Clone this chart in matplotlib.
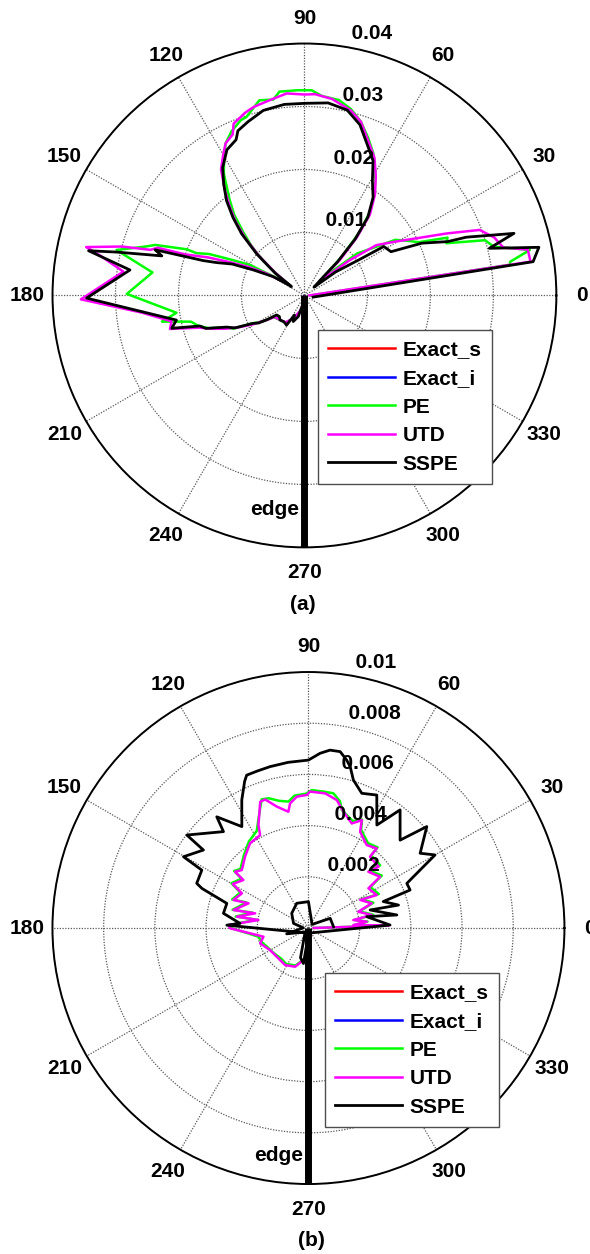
import numpy as np
import matplotlib
matplotlib.use("Agg")
import matplotlib.pyplot as plt

plt.rcParams['font.family'] = ['Liberation Sans', 'DejaVu Sans']
plt.rcParams['font.weight'] = 'bold'

# ---------------- data: (angle in degrees, value) ----------------
angle_ticks = [0, 30, 60, 90, 120, 150, 180, 210, 240, 270, 300, 330]
legend_labels = ['Exact_s', 'Exact_i', 'PE', 'UTD', 'SSPE']
colors = ['#ff0000', '#0000ff', '#00ff00', '#ff00ff', '#000000']

# ----- panel (a) -----
rings_a = [0.01, 0.02, 0.03, 0.04]
ring_labels_a = ['0.01', '0.02', '0.03', '0.04']

exact_s_a = [(272, 0.0002), (276, 0.0016), (280, 0.0010)]
exact_i_a = [(268, 0.0002), (270, 0.0012)]

pe_a = [(0, 0.0010), (8.5, 0.0330), (9.3, 0.0331), (11.4, 0.0365), (14.5, 0.0310),
        (17, 0.0300), (20.2, 0.0240), (22, 0.0245), (25, 0.0200), (28, 0.0185),
        (31.5, 0.0169), (35, 0.0130), (38.5, 0.0107), (42, 0.0050), (44, 0.0040),
        (46, 0.0085), (49, 0.0135), (52, 0.0170), (56, 0.0200), (60, 0.0225),
        (64, 0.0250), (68, 0.0270), (72, 0.0290), (76, 0.0305), (80, 0.0315),
        (85, 0.0318), (88, 0.0326), (92, 0.0326), (97, 0.0326), (99, 0.0315),
        (103, 0.0318), (108, 0.0298), (110, 0.0296), (114, 0.0285), (117.4, 0.0272),
        (120, 0.0255), (123.5, 0.0232), (128, 0.0193), (131, 0.0170), (134, 0.0140),
        (137, 0.0115), (140, 0.0085), (143, 0.0050), (145, 0.0030), (147, 0.0045),
        (150.8, 0.0099), (154, 0.0130), (156.5, 0.0165), (158.6, 0.0184),
        (158.6, 0.0201), (161.3, 0.0250), (163, 0.0265), (166.4, 0.0307),
        (171.4, 0.0244), (179.5, 0.0282), (187.7, 0.0205), (190.4, 0.0230),
        (193, 0.0185), (196, 0.0175), (199, 0.0160), (202, 0.0135), (205, 0.0125),
        (208, 0.0095), (212, 0.0078), (215, 0.0060), (225, 0.0055), (235, 0.0053),
        (245, 0.0040), (255, 0.0025), (265, 0.0010)]

utd_a = [(0.5, 0.0008), (8.5, 0.0363), (11.6, 0.0362), (13.5, 0.0325), (17, 0.0315),
         (20.5, 0.0297), (23.5, 0.0247), (27, 0.0200), (31, 0.0165), (35, 0.0139),
         (38, 0.0090), (41, 0.0040), (43.5, 0.0035), (45, 0.0080), (48, 0.0125),
         (51, 0.0165), (55, 0.0195), (59, 0.0220), (63, 0.0245), (67.5, 0.0265),
         (72, 0.0290), (76, 0.0303), (82, 0.0315), (87, 0.0320), (90, 0.0319),
         (95, 0.0322), (100, 0.0315), (105, 0.0310), (108, 0.0305), (112.4, 0.0295),
         (114, 0.0280), (117.4, 0.0272), (120, 0.0258), (123.5, 0.0240), (127, 0.0210),
         (130, 0.0185), (133, 0.0160), (136, 0.0130), (139, 0.0095), (142, 0.0060),
         (145, 0.0030), (147, 0.0040), (150, 0.0070), (153, 0.0100), (156, 0.0130),
         (158.5, 0.0165), (161, 0.0200), (162, 0.0245), (163.5, 0.0255), (165, 0.0300),
         (167.5, 0.0355), (169, 0.0330), (172.5, 0.0290), (181, 0.0355), (186, 0.0260),
         (191, 0.0215), (194, 0.0220), (197, 0.0175), (200, 0.0155), (203, 0.0135),
         (206, 0.0115), (209, 0.0095), (213, 0.0072), (216, 0.0058), (225, 0.0055),
         (235, 0.0052), (245, 0.0040), (255, 0.0025), (265, 0.0010)]

sspe_a = [(349, 0.0014), (8.4, 0.0367), (11.6, 0.0380), (14.3, 0.0303), (16.5, 0.0347),
          (19.8, 0.0273), (20.6, 0.0243), (24, 0.0204), (26.8, 0.0154), (31.7, 0.0148),
          (33, 0.0107), (37, 0.0062), (41, 0.0020), (44, 0.0035), (45.5, 0.0075),
          (48, 0.0120), (51, 0.0160), (55, 0.0190), (59.4, 0.0212), (63, 0.0240),
          (67.5, 0.0260), (72, 0.0285), (77, 0.0302), (83, 0.0308), (90, 0.0305),
          (96, 0.0305), (102.5, 0.0301), (108, 0.0290), (112, 0.0282), (113.7, 0.0270),
          (118, 0.0262), (122.6, 0.0241), (126, 0.0218), (129.4, 0.0195), (132.5, 0.0168),
          (135.5, 0.0140), (139, 0.0100), (142.8, 0.0058), (145.5, 0.0025), (147, 0.0035),
          (149, 0.0058), (153.5, 0.0091), (156.5, 0.0125), (159.5, 0.0149), (161, 0.0170),
          (163, 0.0248), (164.5, 0.0235), (167, 0.0306), (168.3, 0.0350), (171.7, 0.0280),
          (180.7, 0.0346), (190.9, 0.0207), (193.9, 0.0217), (196.3, 0.0173),
          (198.5, 0.0165), (200, 0.0150), (202.2, 0.0133), (205, 0.0122), (208.5, 0.0093),
          (211, 0.0085), (213, 0.0070), (215, 0.0054), (220, 0.0052), (225, 0.0055),
          (232, 0.0053), (238.9, 0.0055), (243, 0.0035), (246.8, 0.0045), (253.7, 0.0035),
          (258, 0.0018), (265, 0.0008)]

# ----- panel (b) -----
rings_b = [0.002, 0.004, 0.006, 0.008, 0.01]
ring_labels_b = ['0.002', '0.004', '0.006', '0.008', '0.01']

exact_s_b = [(272, 0.0001), (276, 0.0004)]
exact_i_b = [(268, 0.0001), (270, 0.0003)]

pe_b = [(0.5, 0.0002), (1.7, 0.00310), (3.8, 0.00180), (6.2, 0.00232), (10.1, 0.00182),
        (11.6, 0.00258), (18.1, 0.00210), (21.3, 0.00272), (28.5, 0.00236),
        (25.8, 0.00305), (33.5, 0.00290), (35.6, 0.00352), (43.2, 0.00328),
        (41.2, 0.00372), (49.2, 0.00375), (49.4, 0.00415), (54.9, 0.00405),
        (61.8, 0.00435), (63.7, 0.00472), (67.5, 0.00452), (74.2, 0.00479),
        (76, 0.00510), (79.5, 0.00535), (83, 0.00536), (88.6, 0.00539), (91, 0.00525),
        (96, 0.00520), (99, 0.00500), (103, 0.00510), (107, 0.00530), (110, 0.00535),
        (112, 0.00504), (116, 0.00452), (118, 0.00430), (124.6, 0.00410),
        (131.6, 0.00380), (139, 0.00352), (142.5, 0.00366), (143.6, 0.00325),
        (149.8, 0.00348), (152.5, 0.00300), (159.5, 0.00318), (157.6, 0.00262),
        (166.5, 0.00305), (164.6, 0.00226), (171, 0.00288), (170.9, 0.00205),
        (177.9, 0.00310), (180.2, 0.00300), (189.8, 0.00198), (197, 0.00190),
        (204, 0.00178), (215, 0.00168), (228.5, 0.00160), (238, 0.00165),
        (251, 0.00155), (261, 0.00125), (266.5, 0.00100), (269, 0.0002)]

utd_b = [(0.5, 0.0002), (1.7, 0.00313), (3.8, 0.00176), (6.2, 0.00229), (10.1, 0.00178),
         (11.6, 0.00252), (18.1, 0.00205), (21.3, 0.00265), (28.5, 0.00230),
         (25.8, 0.00296), (33.5, 0.00281), (35.6, 0.00344), (43.2, 0.00321),
         (41.2, 0.00364), (49.2, 0.00368), (49.4, 0.00410), (54.9, 0.00396),
         (61.8, 0.00427), (63.7, 0.00470), (67.5, 0.00442), (73.3, 0.00475),
         (77.5, 0.00512), (82.9, 0.00530), (89.3, 0.00533), (90.7, 0.00520),
         (95.1, 0.00515), (98.4, 0.00492), (99.8, 0.00461), (104.6, 0.00490),
         (108.6, 0.00530), (110.9, 0.00528), (115.9, 0.00447), (117.5, 0.00409),
         (124.6, 0.00402), (131.6, 0.00373), (139, 0.00345), (142.5, 0.00361),
         (143.6, 0.00316), (149.8, 0.00342), (152.5, 0.00293), (159.5, 0.00313),
         (157.6, 0.00253), (166.5, 0.00301), (164.6, 0.00216), (171, 0.00283),
         (170.9, 0.00198), (177.9, 0.00313), (180.2, 0.00306), (190.9, 0.00179),
         (197.6, 0.00198), (209.9, 0.00173), (228.5, 0.00167), (237.8, 0.00171),
         (251, 0.00160), (261, 0.00127), (266.5, 0.00106), (269, 0.0002)]

sspe_b = [(270, 0.0002), (2.1, 0.00319), (11, 0.00232), (8.4, 0.00349), (16.3, 0.00251),
          (14.3, 0.00363), (19.5, 0.00310), (20.5, 0.00424), (24.4, 0.00422),
          (30, 0.00571), (33.8, 0.00525), (40.6, 0.00609), (43.8, 0.00496),
          (52.2, 0.00584), (56.4, 0.00483), (62.8, 0.00584), (68.4, 0.00566),
          (73.1, 0.00604), (75.5, 0.00651), (77.2, 0.00673), (79.8, 0.00700),
          (83.1, 0.00700), (86.2, 0.00684), (90, 0.00656), (97, 0.00652),
          (103.4, 0.00648), (108, 0.00645), (112, 0.00644), (113.5, 0.00625),
          (117.5, 0.00564), (123.3, 0.00474), (129.5, 0.00563), (131.4, 0.00502),
          (142.6, 0.00598), (143.4, 0.00511), (150.3, 0.00562), (151.5, 0.00474),
          (158.2, 0.00470), (159.6, 0.00444), (163.2, 0.00333), (170.2, 0.00337),
          (176.1, 0.00268), (178, 0.00319), (270, 0.0002)]

sspe_b_inner = [(3, 0.00098), (24, 0.00093), (45, 0.0002), (90, 0.00103),
                (115.3, 0.00107), (138.7, 0.00087), (162.7, 0.00061), (178, 0.0002),
                (195, 0.00088), (230, 0.0002), (255, 0.0012), (262, 0.0014),
                (266, 0.0004)]

edge_theta = [270, 270]

# ---------------- drawing ----------------
FS = 15
fig = plt.figure(figsize=(5.9, 12.54), dpi=100)


def draw_panel(rect, rmax, rings, ring_labels, series, inner, edge_r_label,
               legend_anchor, caption, caption_xy):
    ax = fig.add_axes(rect, projection='polar')
    ax.set_ylim(0, rmax)
    ax.set_yticks(rings)
    ax.set_yticklabels([])
    ax.set_xticks(np.deg2rad(angle_ticks))
    ax.set_xticklabels([])
    ax.grid(True, linestyle=(0, (1, 1.2)), color='0.35', linewidth=0.9)
    ax.spines['polar'].set_linewidth(1.4)
    ax.spines['polar'].set_color('black')

    handles = []
    for data, c, lab in zip(series, colors, legend_labels):
        th = np.deg2rad([p[0] for p in data])
        rr = [p[1] for p in data]
        lw = 2.0 if c == '#000000' else 1.8
        ln, = ax.plot(th, rr, color=c, lw=lw, label=lab, clip_on=False)
        handles.append(ln)
    if inner is not None:
        ax.plot(np.deg2rad([p[0] for p in inner]), [p[1] for p in inner],
                color='black', lw=2.0)
    ax.plot(np.deg2rad(edge_theta), [0, rmax], color='black', lw=5,
            solid_capstyle='butt')

    for a in angle_ticks:
        ax.text(np.deg2rad(a), 1.1 * rmax, str(a), ha='center', va='center',
                fontsize=FS, fontweight='bold', clip_on=False)
    rinc = rings[1] - rings[0]
    for v, lab in zip(rings, ring_labels):
        ax.text(np.deg2rad(82), v + rinc / 20, '  ' + lab, ha='left',
                va='bottom', fontsize=FS, fontweight='bold', clip_on=False)
    ax.annotate('edge', xy=(np.deg2rad(270), edge_r_label), xytext=(-4, 0),
                textcoords='offset points', ha='right', va='center',
                fontsize=FS, fontweight='bold')

    leg = ax.legend(handles=handles, loc='upper left',
                    bbox_to_anchor=legend_anchor,
                    bbox_transform=fig.transFigure, borderaxespad=0,
                    prop={'weight': 'bold', 'size': FS},
                    handlelength=3.2, handletextpad=0.35, labelspacing=0.46,
                    borderpad=0.5, fancybox=False, framealpha=1,
                    edgecolor='0.3')
    leg.get_frame().set_linewidth(1.0)
    fig.text(caption_xy[0], caption_xy[1], caption, ha='center', va='center',
             fontsize=FS, fontweight='bold')
    return ax


draw_panel([0.089, 0.5634, 0.854, 0.402], 0.04, rings_a, ring_labels_a,
           [exact_s_a, exact_i_a, pe_a, utd_a, sspe_a], None, 0.034,
           (318 / 590, 1 - 330 / 1254), '(a)', (303 / 590, 1 - 605 / 1254))

draw_panel([0.0888, 0.0558, 0.868, 0.4083], 0.01, rings_b, ring_labels_b,
           [exact_s_b, exact_i_b, pe_b, utd_b, sspe_b], sspe_b_inner, 0.0089,
           (325 / 590, 1 - 973 / 1254), '(b)', (311 / 590, 1 - 1240 / 1254))

fig.savefig('out.png', dpi=100)
